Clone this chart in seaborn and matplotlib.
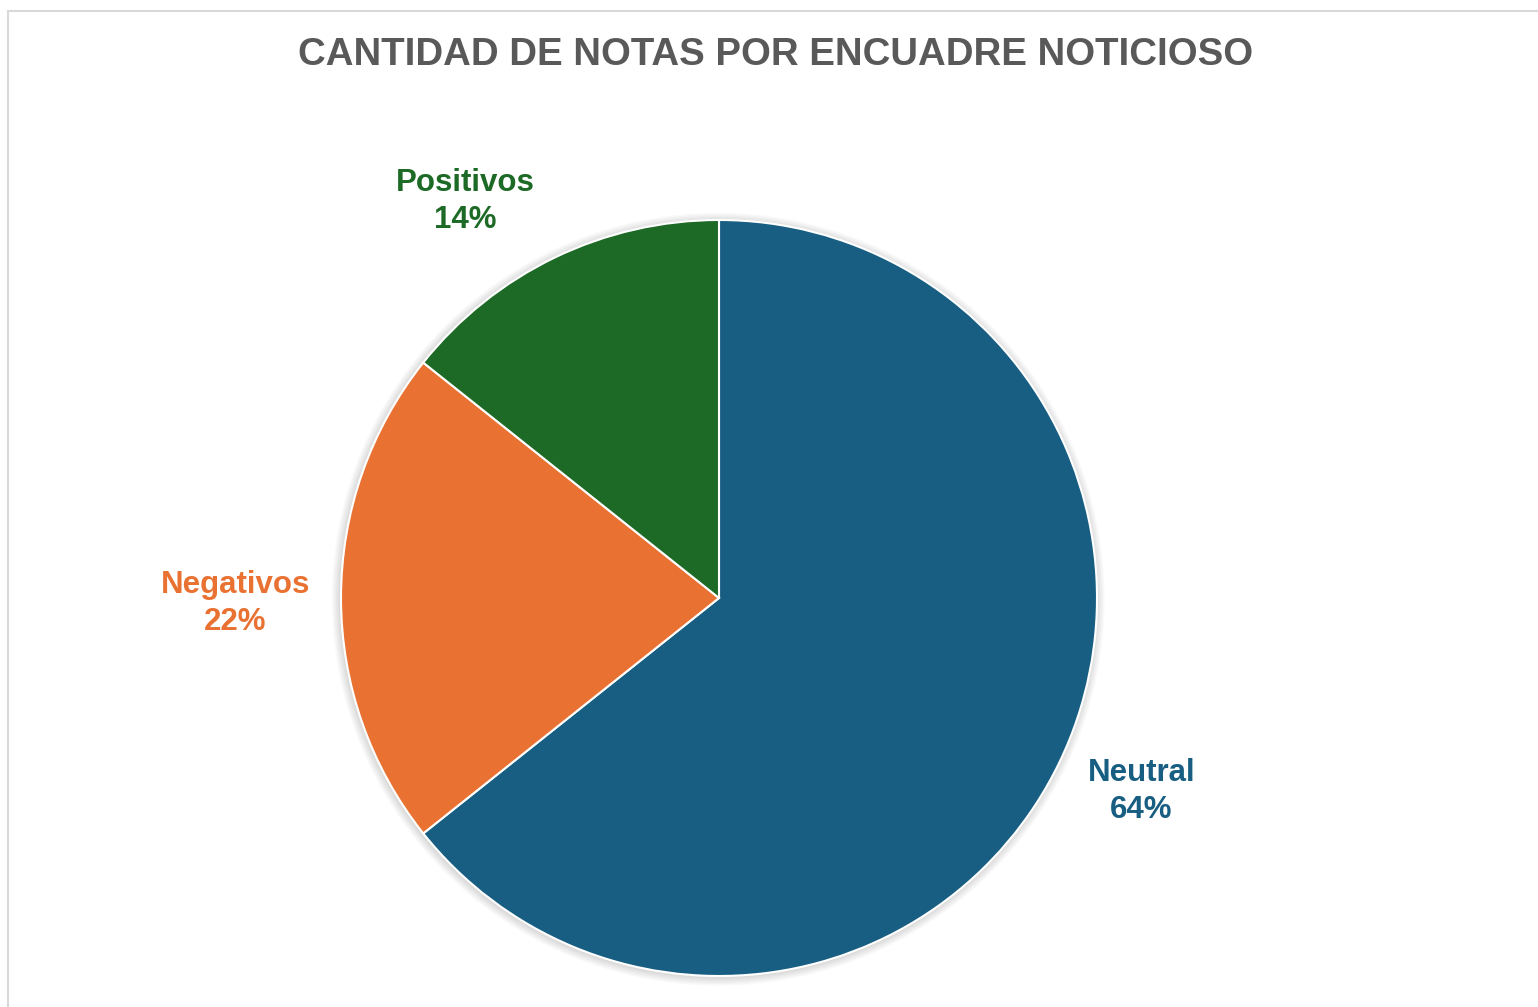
"""Pie chart: cantidad de notas por encuadre noticioso."""

import matplotlib.pyplot as plt
import matplotlib.patches as mpatches
import matplotlib.patheffects as pe
import numpy as np
import seaborn as sns

CATEGORIES = ["Neutral", "Negativos", "Positivos"]
# wedge sizes as drawn (percent), and the percentages printed on the labels
SHARES = [64.3, 21.4, 14.3]
PCT_LABELS = ["64%", "22%", "14%"]
COLORS = ["#175e82", "#e97233", "#1c6a25"]

W, H = 1538, 1007
CENTER = (719, 598)   # pie centre, px
RADIUS = 378          # pie radius, px
HALF = 400            # half side of the axes box, px

# label placement: distance in pie radii, angle nudge in degrees
LABEL_LAYOUT = {"Neutral": (1.23, 1.1), "Negativos": (1.28, 0.6), "Positivos": (1.245, 6.9)}


def main() -> None:
    sns.set_theme(style="white")
    plt.rcParams["font.family"] = ["Liberation Sans", "DejaVu Sans"]

    fig = plt.figure(figsize=(W / 100, H / 100), dpi=100)
    fig.patch.set_facecolor("white")

    # light frame (left and top edges visible)
    frame = mpatches.Rectangle((8 / W, -0.1), 1.2, 1 - 11 / H + 0.1, transform=fig.transFigure,
                               fill=False, edgecolor="#d9d9d9", linewidth=1.5)
    fig.add_artist(frame)

    cx, cy = CENTER
    ax = fig.add_axes([(cx - HALF) / W, (H - cy - HALF) / H, 2 * HALF / W, 2 * HALF / H])

    r = RADIUS / HALF
    # soft glow behind the pie
    for k in range(1, 7):
        ax.add_patch(mpatches.Circle((-0.002, -0.003), r + k * 0.0035, facecolor="#000000",
                                     edgecolor="none", alpha=0.022, zorder=0))

    wedges, _ = ax.pie(
        SHARES, colors=COLORS, startangle=90, counterclock=False, radius=r,
        wedgeprops=dict(edgecolor="white", linewidth=1.5, zorder=2),
    )
    ax.set_xlim(-1, 1)
    ax.set_ylim(-1, 1)
    ax.set_aspect("equal")
    ax.axis("off")

    for w, name, pct, col in zip(wedges, CATEGORIES, PCT_LABELS, COLORS):
        dist, nudge = LABEL_LAYOUT[name]
        ang = np.deg2rad((w.theta1 + w.theta2) / 2 + nudge)
        ax.text(dist * r * np.cos(ang), dist * r * np.sin(ang),
                f"{name}\n{pct}", ha="center", va="center",
                fontsize=22.5, fontweight="bold", color=col, linespacing=1.3, clip_on=False)

    fig.text(776 / W, 1 - 55 / H, "CANTIDAD DE NOTAS POR ENCUADRE NOTICIOSO",
             ha="center", va="center", fontsize=27.6, fontweight="bold", color="#595959")

    fig.savefig("out.png", dpi=100)
    plt.close(fig)


if __name__ == "__main__":
    main()
